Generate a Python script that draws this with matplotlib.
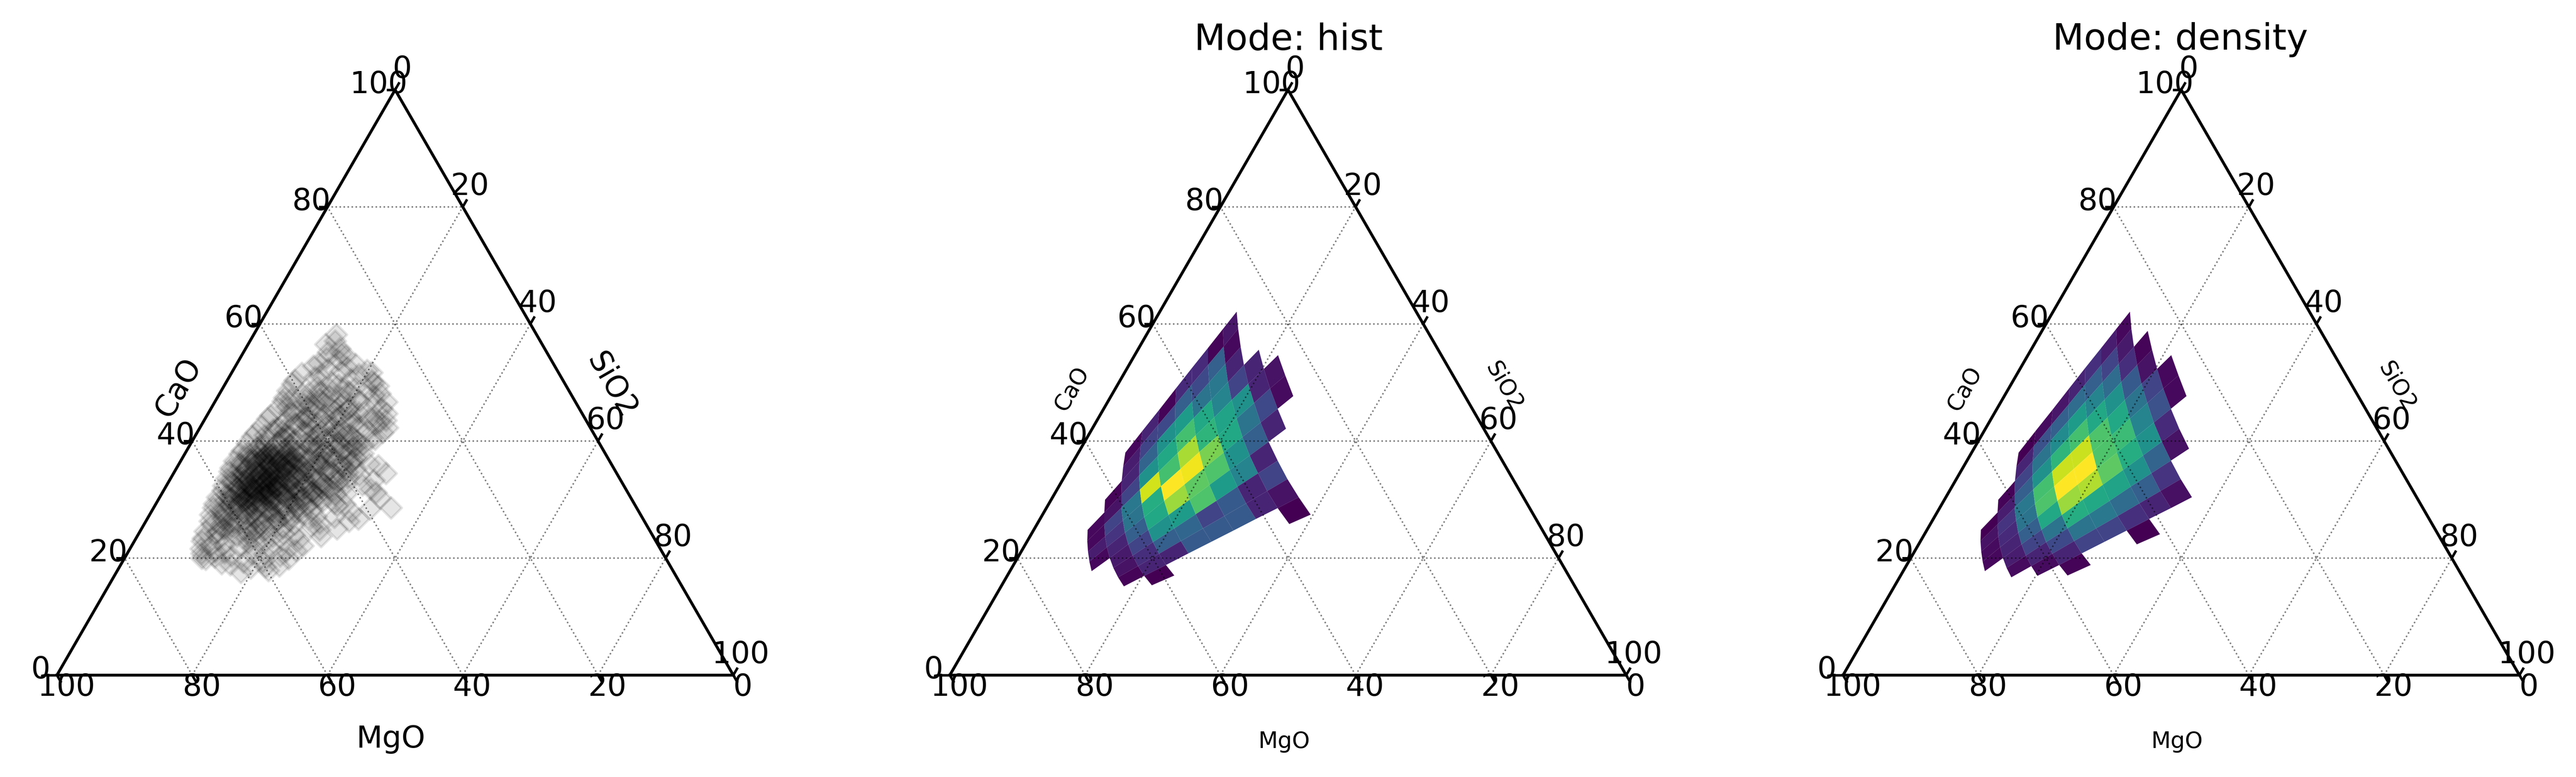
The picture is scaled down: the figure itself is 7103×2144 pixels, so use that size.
import numpy as np
import matplotlib
matplotlib.use("Agg")
import matplotlib.pyplot as plt

W, H = 7103, 2144
DPI = 500

# scatter sample (percent, MgO is the rest)
cao_pct = [
    17.6, 18.9, 19.4, 17.9, 18.3, 19.8, 18.7, 19.1, 20.0, 19.3, 18.5, 19.9,
    20.8, 21.6, 22.4, 20.3, 21.1, 22.9, 20.6, 21.9, 22.2, 20.4, 21.3, 22.7, 20.9, 21.5, 22.1, 20.2, 21.8, 22.6, 20.7, 21.2,
    23.4, 24.6, 25.7, 23.1, 24.2, 25.3, 23.8, 24.9, 25.9, 23.3, 24.4, 25.1, 23.6, 24.7, 25.5,
    23.9, 24.1, 25.8, 23.2, 24.8, 25.4, 23.7, 24.3, 25.6, 23.5, 24.5, 25.2, 24.0, 25.0, 23.0,
    26.3, 27.4, 28.6, 26.7, 27.9, 28.2, 26.1, 27.2, 28.9, 26.5, 27.7, 28.4, 26.9, 27.1, 28.8, 26.2, 27.5, 28.1,
    26.6, 27.8, 28.5, 26.4, 27.3, 28.7, 26.8, 27.6, 28.3, 26.0, 27.0, 29.0, 26.3, 27.9, 28.4, 26.7, 27.1, 28.6, 26.9, 27.4, 28.2, 28.3,
    29.3, 30.4, 31.6, 29.8, 30.9, 31.2, 29.1, 30.2, 31.9, 29.5, 30.6, 31.3, 29.9, 30.1, 31.7, 29.2, 30.7, 31.4,
    29.6, 30.3, 31.8, 29.4, 30.8, 31.1, 29.7, 30.5, 31.5, 29.0, 30.0, 32.0, 29.3, 30.9, 31.6, 29.8, 30.2, 31.2,
    29.5, 30.6, 31.9, 29.1, 30.4, 31.3, 29.9, 30.7, 31.7, 29.6, 30.1, 31.5, 29.4, 30.8, 31.0, 29.2, 30.3, 31.8,
    29.7, 30.5, 31.4, 31.2, 30.0, 31.6,
    32.4, 33.6, 34.8, 32.9, 33.2, 34.3, 32.1, 33.9, 34.6, 32.6, 33.4, 34.1, 32.3, 33.7, 34.9, 32.8, 33.1, 34.4,
    32.2, 33.5, 34.7, 32.7, 33.8, 34.2, 32.5, 33.3, 34.5, 32.0, 33.0, 35.0, 32.4, 33.6, 34.8, 32.9, 33.2, 34.3,
    32.1, 33.9, 34.6, 32.6, 33.4, 34.1, 32.3, 33.7, 34.9, 32.8, 33.1, 34.4, 32.2, 33.5, 34.7, 32.7, 33.8, 34.2,
    32.5, 33.3, 34.5, 32.0, 33.0, 34.0,
    35.4, 36.6, 37.8, 35.9, 36.2, 37.3, 35.1, 36.9, 37.6, 35.6, 36.4, 37.1, 35.3, 36.7, 37.9, 35.8, 36.1, 37.4,
    35.2, 36.5, 37.7, 35.7, 36.8, 37.2, 35.5, 36.3, 37.5, 35.0, 36.0, 38.0, 35.4, 36.6, 37.8, 35.9, 36.2, 37.3,
    35.1, 36.9, 37.6, 35.6, 36.4, 37.1, 35.3, 36.7, 37.9, 35.8, 36.1, 37.4, 35.2, 36.5, 37.7, 35.7, 36.8, 37.2,
    38.4, 39.6, 40.8, 38.9, 39.2, 40.3, 38.1, 39.9, 40.6, 38.6, 39.4, 40.1, 38.3, 39.7, 40.9, 38.8, 39.1, 40.4,
    38.2, 39.5, 40.7, 38.7, 39.8, 40.2, 38.5, 39.3, 40.5, 38.0, 39.0, 41.0, 38.4, 39.6, 40.8, 38.9, 39.2, 40.3,
    41.4, 42.6, 43.8, 41.9, 42.2, 43.3, 41.1, 42.9, 43.6, 41.6, 42.4, 43.1, 41.3, 42.7, 43.9,
    41.8, 42.1, 43.4, 41.2, 42.5, 43.7, 41.7, 42.8, 43.2, 41.5, 42.3, 43.5, 41.0, 42.0, 44.0,
    44.4, 45.6, 46.8, 44.9, 45.2, 46.3, 44.1, 45.9, 46.6, 44.6, 45.4, 46.1, 44.3, 45.7, 46.9, 44.8, 45.1, 46.4,
    44.2, 45.5, 46.7, 44.7, 45.8, 46.2,
    47.4, 48.6, 49.8, 47.9, 48.2, 49.3, 47.1, 48.9, 49.6, 47.6, 48.4, 49.1, 47.3, 48.7, 49.9, 47.8, 48.1, 49.4, 47.2, 48.5,
    50.4, 51.6, 52.8, 50.9, 51.2, 52.3, 50.1, 51.9, 52.6, 50.6, 51.4, 52.1, 50.3, 51.7,
    53.3, 54.1, 53.8, 54.6, 53.1, 55.2, 54.9, 56.5, 55.8, 58.2, 57.1,
    # dense core
    30.2, 31.5, 32.8, 34.1, 35.4, 36.7, 38.0, 29.6, 30.9, 32.2, 33.5, 34.8, 36.1, 37.4, 38.7,
    30.5, 31.8, 33.1, 34.4, 35.7, 37.0, 38.3, 29.9, 31.2, 32.5, 33.8, 35.1, 36.4, 37.7,
    30.8, 32.1, 33.4, 34.7, 36.0, 37.3, 31.1, 32.4, 33.7, 35.0, 36.3,
    # broad middle of the cloud
    24.5, 26.2, 28.1, 30.4, 33.2, 36.1, 39.3, 42.2, 44.6, 47.1,
    25.3, 27.4, 29.2, 31.7, 34.5, 37.6, 40.4, 43.1, 45.8, 48.2,
    24.9, 26.8, 28.7, 31.1, 33.9, 36.9, 39.8, 42.7, 45.2, 47.6,
    25.7, 27.9, 29.8, 32.3, 35.2, 38.2, 41.2, 43.9, 46.4, 49.1,
    26.4, 28.4, 30.9, 33.4, 36.4, 39.1, 41.8, 44.3, 46.9,
    27.1, 29.4, 31.6, 34.2, 37.1, 40.1, 42.5, 45.4,
    27.7, 30.1, 32.7, 35.6, 38.6, 41.4, 44.1,
    28.9, 31.3, 33.7, 36.6, 39.6, 42.9,
    30.6, 32.1, 34.9, 37.9, 40.8,
    31.9, 35.9, 38.9,
    33.1, 36.2,
    34.3,
]
sio2_pct = [
    18.4, 16.2, 20.7, 22.3, 19.5, 12.1, 23.5, 14.8, 11.4, 17.9, 21.6, 24.3,
    11.0, 10.5, 13.6, 15.7, 12.9, 10.0, 18.6, 16.1, 11.7, 22.8, 24.7, 19.3, 14.3, 21.0, 25.3, 13.2, 18.1, 16.9, 20.4, 23.3,
    9.9, 9.6, 10.1, 12.3, 11.4, 13.1, 14.7, 12.2, 15.2, 17.6, 15.9, 17.0, 20.1, 18.3, 19.1,
    23.1, 21.4, 22.3, 24.2, 26.4, 24.9, 27.2, 13.4, 11.5, 16.2, 16.8, 20.8, 18.9, 28.9, 21.9,
    9.5, 9.0, 8.8, 11.2, 10.6, 10.2, 13.0, 12.0, 12.4, 14.4, 13.7, 14.1, 15.8, 15.1, 16.0, 17.4, 16.6, 17.5,
    19.2, 18.2, 19.3, 21.1, 20.0, 21.2, 23.7, 22.4, 23.6, 25.8, 27.5, 26.9, 30.0, 29.6, 32.1, 31.2, 24.8, 35.1, 18.8, 11.0, 15.3, 12.9,
    8.6, 8.5, 8.7, 9.9, 9.6, 10.1, 11.0, 10.8, 11.3, 12.2, 11.7, 12.4, 13.1, 12.8, 13.3, 14.0, 13.6, 14.2,
    14.8, 14.4, 15.1, 15.6, 15.3, 16.0, 16.5, 16.2, 16.9, 17.4, 17.1, 17.8, 18.3, 18.0, 18.7, 19.2, 18.9, 19.6,
    20.2, 19.9, 20.7, 21.4, 21.1, 22.0, 22.9, 22.5, 23.6, 24.4, 24.0, 25.2, 26.3, 25.8, 27.3, 28.0, 32.6, 30.5,
    12.6, 13.9, 15.7, 31.6, 16.6, 18.4,
    8.4, 8.3, 8.1, 9.5, 9.2, 9.0, 10.6, 10.3, 10.1, 11.4, 11.1, 11.7, 12.2, 12.5, 12.0, 13.2, 13.0, 12.8,
    13.8, 13.5, 14.1, 14.6, 14.3, 14.9, 15.4, 15.1, 15.7, 16.2, 15.9, 16.5, 17.0, 16.7, 17.3, 17.9, 17.6, 18.2,
    18.9, 18.5, 19.3, 20.1, 19.7, 20.6, 21.4, 21.0, 22.1, 23.0, 22.6, 23.8, 24.7, 24.2, 25.6, 26.4, 26.1, 27.6,
    28.9, 30.2, 31.4, 12.9, 14.4, 16.0,
    8.0, 7.9, 8.1, 9.3, 9.0, 9.4, 10.4, 10.1, 10.7, 11.5, 11.2, 11.9, 12.6, 12.3, 13.0, 13.6, 13.3, 14.1,
    14.7, 14.4, 15.3, 15.8, 15.5, 16.4, 17.0, 16.7, 17.6, 18.2, 17.9, 18.9, 19.5, 19.1, 20.4, 21.0, 20.6, 22.1,
    22.7, 22.2, 23.9, 24.6, 24.0, 25.7, 26.6, 25.4, 26.3, 29.6, 28.1, 13.5, 15.0, 16.3, 12.2, 18.5, 20.9, 11.0,
    8.2, 8.3, 8.5, 10.1, 10.4, 10.9, 12.2, 12.7, 13.1, 14.3, 14.8, 15.4, 16.5, 16.9, 17.6, 18.4, 19.0, 19.6,
    20.6, 21.2, 21.9, 22.9, 23.4, 24.1, 25.1, 25.6, 26.3, 9.2, 11.4, 13.8, 15.7, 17.9, 20.3, 22.1, 24.7, 26.9,
    8.7, 9.0, 9.2, 11.0, 11.4, 11.9, 13.2, 13.8, 14.4, 15.6, 16.1, 16.9, 18.0, 18.6, 19.4,
    20.3, 21.0, 21.8, 22.6, 23.3, 24.2, 25.0, 25.7, 26.1, 27.4, 27.7, 26.9, 10.2, 12.6, 15.1,
    9.4, 9.9, 10.0, 12.0, 12.7, 13.3, 14.6, 15.2, 16.1, 17.2, 18.0, 18.8, 19.7, 20.4, 21.3, 22.2, 23.0, 23.9,
    24.8, 25.3, 25.4, 26.4, 11.1, 14.1,
    9.9, 9.8, 9.9, 12.4, 13.0, 13.8, 15.2, 15.9, 16.8, 18.1, 18.9, 19.6, 20.7, 21.5, 21.9, 23.0, 23.7, 22.8, 11.0, 14.5,
    10.0, 10.4, 11.5, 12.7, 13.3, 13.9, 15.6, 16.0, 16.6, 18.2, 18.9, 19.8, 21.4, 20.7,
    12.0, 12.8, 14.7, 15.4, 17.6, 12.5, 14.6, 11.5, 13.9, 12.2, 12.6,
    # dense core
    10.4, 11.1, 10.9, 10.6, 10.3, 10.8, 11.3, 11.8, 12.2, 12.0, 11.6, 11.9, 12.4, 12.1, 12.7,
    13.3, 13.1, 13.6, 13.0, 13.4, 13.2, 13.8, 14.4, 14.7, 14.2, 14.5, 14.1, 14.6, 14.9,
    15.5, 15.2, 15.7, 15.0, 15.4, 15.9, 16.1, 16.4, 16.0, 16.6, 16.3,
    # broad middle of the cloud
    11.6, 12.4, 11.9, 12.1, 10.9, 11.4, 11.2, 11.8, 12.6, 13.1,
    13.4, 14.2, 13.6, 13.1, 12.7, 12.9, 13.2, 13.7, 14.2, 14.9,
    15.6, 16.1, 15.4, 14.9, 14.3, 14.6, 15.0, 15.6, 15.9, 16.4,
    17.3, 17.7, 17.0, 16.5, 15.8, 16.2, 16.6, 17.2, 17.6, 17.9,
    19.4, 19.1, 18.5, 17.9, 17.5, 17.9, 18.2, 18.8, 19.2,
    20.9, 20.4, 19.8, 19.2, 18.8, 19.3, 19.7, 20.3,
    21.6, 21.1, 20.6, 20.1, 20.4, 20.9, 21.4,
    22.4, 22.1, 21.6, 21.3, 21.9, 22.4,
    23.2, 23.0, 22.6, 22.9, 23.3,
    24.2, 24.1, 24.3,
    25.1, 25.3,
    24.9,
]

# log-ratio bin edges of the heatmaps, ln(CaO/SiO2) and ln(CaO*SiO2/MgO^2)
ratio_edges = [1.70, 1.512, 1.324, 1.136, 0.948, 0.76, 0.572, 0.384, 0.196, 0.008, -0.18, -0.368]
mix_edges = [-3.13, -2.78, -2.44, -2.09, -1.74, -1.39, -1.05, -0.70, -0.35, 0.0, 0.345, 0.69]

n = np.nan
# rows follow ratio_edges, columns follow mix_edges, normalised to the peak
hist_vals = [
    [n,    n,    0.02, 0.10, 0.01, 0.12, 0.12, 0.01, 0.06, n,    n],
    [n,    n,    0.08, 0.20, 0.22, 0.30, 0.22, 0.30, 0.02, n,    n],
    [n,    0.01, 0.10, 0.32, 0.50, 0.55, 0.38, 0.40, 0.10, n,    n],
    [0.02, 0.05, 0.20, 0.50, 0.60, 0.70, 0.60, 0.45, 0.20, 0.10, n],
    [0.02, 0.20, 0.40, 0.93, 0.70, 0.87, 0.65, 0.58, 0.50, 0.10, 0.05],
    [0.08, 0.15, 0.38, 0.62, 1.00, 0.98, 0.80, 0.60, 0.38, 0.22, 0.03],
    [0.02, 0.10, 0.30, 0.60, 0.85, 0.75, 0.72, 0.50, 0.30, 0.10, n],
    [n,    0.07, 0.20, 0.50, 0.55, 0.72, 0.55, 0.45, 0.10, n,    n],
    [n,    0.05, 0.13, 0.30, 0.33, 0.20, 0.28, 0.10, 0.20, n,    n],
    [n,    0.01, 0.10, 0.10, 0.28, 0.28, 0.28, 0.10, 0.05, n,    n],
    [n,    n,    0.00, n,    n,    n,    n,    n,    0.00, n,    n],
]
density_vals = [
    [n,    n,    0.00, 0.03, 0.06, 0.10, 0.14, 0.08, 0.02, n,    n],
    [n,    n,    0.10, 0.25, 0.30, 0.35, 0.30, 0.20, 0.07, n,    n],
    [n,    0.01, 0.20, 0.38, 0.48, 0.55, 0.45, 0.35, 0.13, 0.01, n],
    [0.00, 0.08, 0.30, 0.50, 0.65, 0.70, 0.60, 0.50, 0.28, 0.05, n],
    [0.05, 0.15, 0.40, 0.70, 0.92, 0.92, 0.72, 0.60, 0.38, 0.20, 0.02],
    [0.03, 0.12, 0.38, 0.72, 1.00, 1.00, 0.72, 0.68, 0.45, 0.25, 0.02],
    [0.02, 0.10, 0.30, 0.60, 0.85, 0.88, 0.75, 0.62, 0.50, 0.12, n],
    [n,    0.08, 0.20, 0.38, 0.62, 0.60, 0.58, 0.50, 0.32, 0.05, n],
    [n,    0.03, 0.10, 0.22, 0.38, 0.40, 0.35, 0.30, 0.15, n,    n],
    [n,    n,    0.03, 0.10, 0.20, 0.20, 0.14, 0.10, 0.04, n,    n],
    [n,    n,    n,    0.01, n,    n,    0.00, n,    n,    n,    n],
]

grid_vals = [20, 40, 60, 80]
tick_vals = [0, 20, 40, 60, 80, 100]

SIDE = 1865
HEIGHT = 1615
BOTTOM = 1863
panel_left = [157, 2619, 5082]
HS = np.sqrt(3) / 2


def to_xy(top, right):
    # top = CaO, right = SiO2, left = MgO; percent to triangle coordinates
    return np.asarray(right) + np.asarray(top) / 2.0, np.asarray(top) * HS


def mesh_xy():
    r, m = np.meshgrid(ratio_edges, mix_edges, indexing="ij")
    a = np.exp((m - r) / 2.0)
    b = np.exp((m + r) / 2.0)
    left = 100.0 / (1.0 + a + b)
    return to_xy(b * left, a * left)


def px(v):
    return v * 72.0 / DPI


def draw_frame(ax):
    # dotted grid
    for g in grid_vals:
        lines = [
            ((g, 0), (g, 100 - g)),
            ((0, 100 - g), (100 - g, 0)),
            ((0, g), (100 - g, g)),
        ]
        for (t0, r0), (t1, r1) in lines:
            x0, y0 = to_xy(t0, r0)
            x1, y1 = to_xy(t1, r1)
            ax.plot([x0, x1], [y0, y1], color="k", alpha=0.5, lw=0.6, ls=":", zorder=3, clip_on=False)
    # triangle
    xs, ys = to_xy([0, 100, 0, 0], [0, 0, 100, 0])
    ax.plot(xs, ys, color="k", lw=1.15, zorder=4, clip_on=False, solid_joinstyle="miter")
    # ticks, one set per side
    tick_len = 24 * 100.0 / SIDE
    for v in tick_vals:
        # left side, CaO
        x, y = to_xy(v, 0)
        ax.plot([x, x - tick_len], [y, y], color="k", lw=1.0, zorder=4, clip_on=False, solid_capstyle="butt")
        ax.annotate(str(v), (x, y), xytext=(px(-45), px(-9)), textcoords="offset points",
                    ha="center", va="baseline", fontsize=12, zorder=5)
        # bottom side, MgO runs from right to left
        x, y = to_xy(0, 100 - v)
        ax.plot([x, x + tick_len * 0.5], [y, y - tick_len * HS], color="k", lw=1.0, zorder=4, clip_on=False,
                solid_capstyle="butt")
        ax.annotate(str(v), (x, y), xytext=(px(26), px(-57)), textcoords="offset points",
                    ha="center", va="baseline", fontsize=12, zorder=5)
        # right side, SiO2
        x, y = to_xy(100 - v, v)
        ax.plot([x, x + tick_len * 0.5], [y, y + tick_len * HS], color="k", lw=1.0, zorder=4, clip_on=False,
                solid_capstyle="butt")
        ax.annotate(str(v), (x, y), xytext=(px(20), px(33)), textcoords="offset points",
                    ha="center", va="baseline", fontsize=12, zorder=5)


def fig_text(x, y, s, **kw):
    return fig.text(x / W, 1 - y / H, s, **kw)


fig = plt.figure(figsize=(W / DPI, H / DPI), dpi=DPI)
axes = []
for left_px in panel_left:
    ax = fig.add_axes([left_px / W, 1 - BOTTOM / H, SIDE / W, HEIGHT / H])
    ax.set_xlim(0, 100)
    ax.set_ylim(0, HEIGHT / SIDE * 100)
    ax.axis("off")
    draw_frame(ax)
    axes.append(ax)

# left panel: scatter
sx, sy = to_xy(cao_pct, sio2_pct)
axes[0].scatter(sx, sy, marker="D", s=36, c="k", alpha=0.1, linewidths=1.0, zorder=2)

# heatmaps
mx, my = mesh_xy()
for ax, vals in zip(axes[1:], [hist_vals, density_vals]):
    ax.pcolormesh(mx, my, np.array(vals), cmap="viridis", vmin=0, vmax=1, zorder=2,
                  shading="flat", antialiased=True, linewidth=0)

# axis labels
fig_text(492, 1070, "CaO", fontsize=12, rotation=60, ha="center", va="center")
fig_text(1686, 1064, "SiO2", fontsize=12, rotation=-60, ha="center", va="center")
fig_text(1078, 2039, "MgO", fontsize=12, ha="center", va="center")
for mid in [3548, 6010]:
    fig_text(mid - 592, 1073, "CaO", fontsize=9, rotation=60, ha="center", va="center")
    fig_text(mid + 599, 1067, "SiO2", fontsize=9, rotation=-60, ha="center", va="center")
    fig_text(mid - 7, 2047, "MgO", fontsize=9, ha="center", va="center")

fig_text(3553, 137, "Mode: hist", fontsize=14.4, ha="center", va="baseline")
fig_text(6012, 137, "Mode: density", fontsize=14.4, ha="center", va="baseline")

fig.savefig("out.png", dpi=DPI)
